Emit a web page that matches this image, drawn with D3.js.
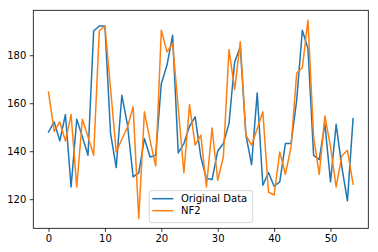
<!DOCTYPE html>
<html><head><meta charset="utf-8">
<script src="https://cdn.jsdelivr.net/npm/d3@7"></script>
<style>body{margin:0;background:#fff}svg{display:block}text{font-family:"DejaVu Sans",sans-serif}</style>
</head><body>
<svg id="c" width="378" height="252"></svg>
<script>
const original = [148,152.2,144.3,155.3,125.1,153.3,146,138.3,190.1,192.2,192.2,147.4,133.2,163.3,151,129.3,131,145.3,137.6,138.3,168.2,175.8,188.3,139.3,143.2,150.4,154.3,137.6,128.6,128.2,140.1,143.2,151.5,177.2,183.5,146.7,134.4,164.3,125.8,131.1,125.4,127.2,143.2,143.2,161.2,190.4,182.8,138.3,136.5,151.5,127.2,151.2,133.5,119.3,153.6];
const nf2 = [164.6,148.3,152.2,144.2,155.3,125.1,153.3,146,138.3,190.1,192.2,166,139.7,145,150,158.5,112,156.4,144.6,133.8,190.4,181.4,184.9,158,131,159.4,142.5,146.7,125.1,149.7,127.9,137.6,182.4,165.7,185.6,146.7,142.5,149.4,156.4,123,121.7,139.7,130.4,141.8,172.6,174.8,194.6,146,130.3,154.7,141.8,125.1,138,140.4,126.3];
const seriesNames = ["Original Data","NF2"];
const xTicks = [0,10,20,30,40,50];
const yTicks = [120,140,160,180];
const colors = ["#1f77b4","#ff7f0e"];

const svg = d3.select("#c");
const L=33.3, R=368.3, T=10.3, B=228.3;
const n = original.length;
const allV = original.concat(nf2);
const vmin = d3.min(allV), vmax = d3.max(allV);
const xpad = (n-1)*0.05, ypad = (vmax-vmin)*0.05;
const x = d3.scaleLinear().domain([-xpad, n-1+xpad]).range([L,R]);
const y = d3.scaleLinear().domain([vmin-ypad, vmax+ypad]).range([B,T]);

const line = d3.line().x((d,i)=>x(i)).y(d=>y(d));
[original, nf2].forEach((s,k)=>{
  svg.append("path").datum(s).attr("d",line).attr("fill","none")
    .attr("stroke",colors[k]).attr("stroke-width",1.5).attr("stroke-linejoin","round").attr("stroke-linecap","square");
});

const xa = svg.append("g").attr("transform",`translate(0,${B})`)
  .call(d3.axisBottom(x).tickValues(xTicks).tickSize(3.5).tickPadding(3.5).tickFormat(d3.format("d")));
const ya = svg.append("g").attr("transform",`translate(${L},0)`)
  .call(d3.axisLeft(y).tickValues(yTicks).tickSize(3.5).tickPadding(3.5).tickFormat(d3.format("d")));
[xa,ya].forEach(a=>{
  a.select(".domain").remove();
  a.selectAll("text").attr("font-size",10).attr("fill","#000").attr("font-family","DejaVu Sans");
  a.selectAll("line").attr("stroke","#000").attr("stroke-width",0.8);
});
svg.append("rect").attr("x",L).attr("y",T).attr("width",R-L).attr("height",B-T)
  .attr("fill","none").attr("stroke","#000").attr("stroke-width",0.8);

const lg = svg.append("g");
lg.append("rect").attr("x",149.3).attr("y",190.7).attr("width",103.4).attr("height",32)
  .attr("rx",2).attr("fill","#fff").attr("fill-opacity",0.8).attr("stroke","#cccccc").attr("stroke-width",0.8);
seriesNames.forEach((nm,k)=>{
  const yy = 198.7 + k*12;
  lg.append("line").attr("x1",152.3).attr("x2",173.3).attr("y1",yy).attr("y2",yy)
    .attr("stroke",colors[k]).attr("stroke-width",1.5);
  lg.append("text").attr("x",181).attr("y",yy).attr("dy","0.35em").attr("font-size",10).attr("fill","#000").text(nm);
});
</script>
</body></html>
